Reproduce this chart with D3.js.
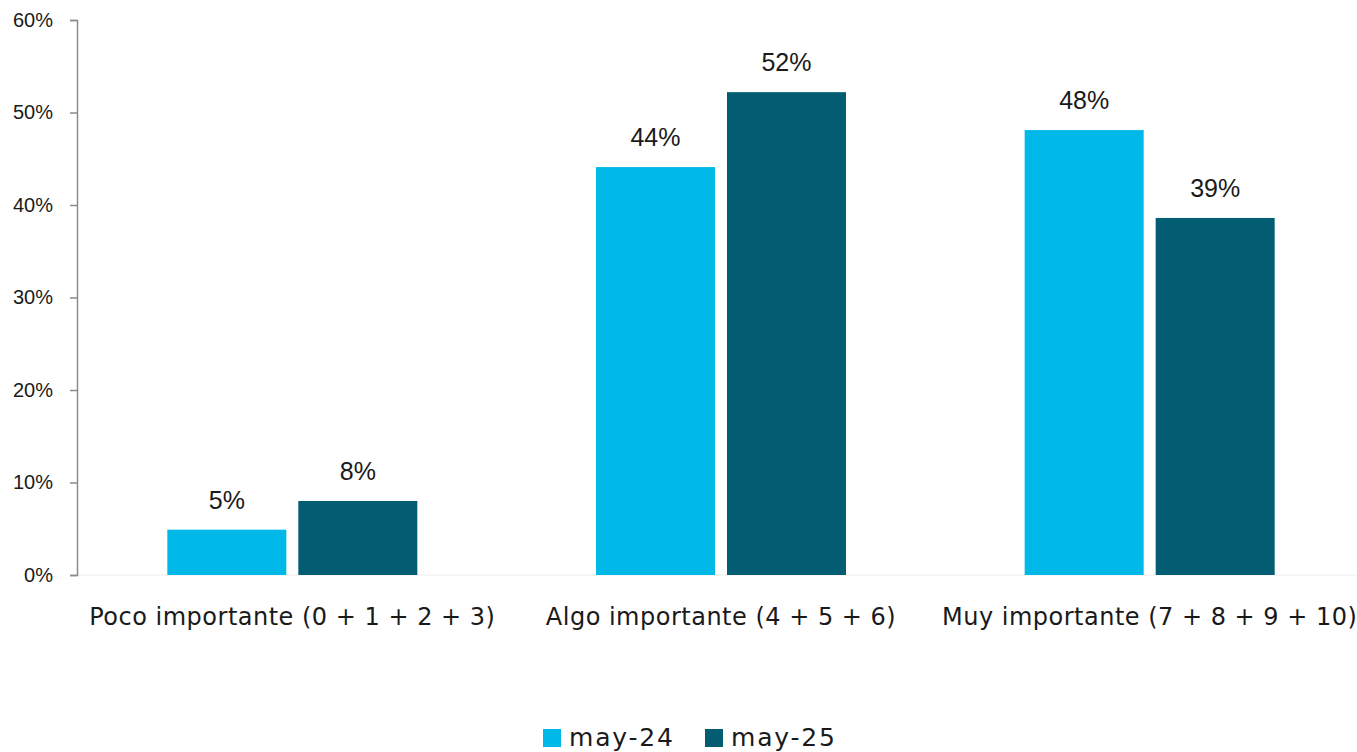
<!DOCTYPE html>
<html><head><meta charset="utf-8">
<script src="https://cdn.jsdelivr.net/npm/d3@7"></script>
<style>body{margin:0;background:#fff}svg{display:block;font-family:"DejaVu Sans",sans-serif}</style>
</head><body><svg id="c" width="1357" height="752"></svg>
<script>
const categories = ["Poco importante (0 + 1 + 2 + 3)", "Algo importante (4 + 5 + 6)", "Muy importante (7 + 8 + 9 + 10)"];
const seriesNames = ["may-24", "may-25"];
const may24 = [4.9, 44.1, 48.1];
const may25 = [8.0, 52.2, 38.6];
const labels24 = ["5%", "44%", "48%"];
const labels25 = ["8%", "52%", "39%"];
const yTicks = [0, 10, 20, 30, 40, 50, 60];
const colors = ["#00b9e8", "#025d73"];

const svg = d3.select("#c");
const x0 = 77, x1 = 1363, yTop = 20, yBot = 575;
const x = d3.scaleBand().domain(categories).range([x0 + 1, x1 + 1]).paddingInner(0).paddingOuter(0);
const y = d3.scaleLinear().domain([0, 60]).range([yBot, yTop]);

svg.append("line").attr("x1", x0).attr("x2", x1).attr("y1", yBot).attr("y2", yBot)
  .attr("stroke", "#eeeeee").attr("stroke-width", 1);

const yAxis = d3.axisLeft(y).tickValues(yTicks).tickFormat(d => d + "%").tickSize(7).tickPadding(17);
const ga = svg.append("g").attr("transform", `translate(${x0},0)`).call(yAxis);
ga.select(".domain").attr("stroke", "#8c8c8c").attr("stroke-width", 1.5);
ga.selectAll(".tick line").attr("stroke", "#8c8c8c").attr("stroke-width", 1.5);
ga.selectAll(".tick text").attr("fill", "#1a1a1a").style("font-size", "20px").style("font-family", "'Liberation Sans',Arial,sans-serif");

const barW = 119, gap = 12;
const series = [may24, may25];
const lbls = [labels24, labels25];
series.forEach((vals, s) => {
  const off = s === 0 ? -(gap / 2 + barW) : gap / 2;
  const g = svg.append("g");
  g.selectAll("rect").data(vals).join("rect")
    .attr("x", (d, i) => x(categories[i]) + x.bandwidth() / 2 + off)
    .attr("y", d => y(d)).attr("width", barW).attr("height", d => yBot - y(d))
    .attr("fill", colors[s]);
  g.selectAll("text").data(vals).join("text")
    .attr("x", (d, i) => x(categories[i]) + x.bandwidth() / 2 + off + barW / 2)
    .attr("y", d => y(d) - 21)
    .attr("text-anchor", "middle").attr("fill", "#1a1a1a")
    .style("font-size", "25px").style("font-family", "'Liberation Sans',Arial,sans-serif")
    .text((d, i) => lbls[s][i]);
});

svg.append("g").selectAll("text").data(categories).join("text")
  .attr("x", d => x(d) + x.bandwidth() / 2).attr("y", 625)
  .attr("text-anchor", "middle").attr("fill", "#1a1a1a").style("font-size", "24px")
  .style("letter-spacing", "0.5px")
  .text(d => d);

const legX = [543, 705];
const lg = svg.append("g");
seriesNames.forEach((n, i) => {
  lg.append("rect").attr("x", legX[i]).attr("y", 729).attr("width", 18).attr("height", 18).attr("fill", colors[i]);
  lg.append("text").attr("x", legX[i] + 26).attr("y", 746).attr("fill", "#1a1a1a")
    .style("font-size", "25px").style("letter-spacing", "1.8px").text(n);
});
</script></body></html>
